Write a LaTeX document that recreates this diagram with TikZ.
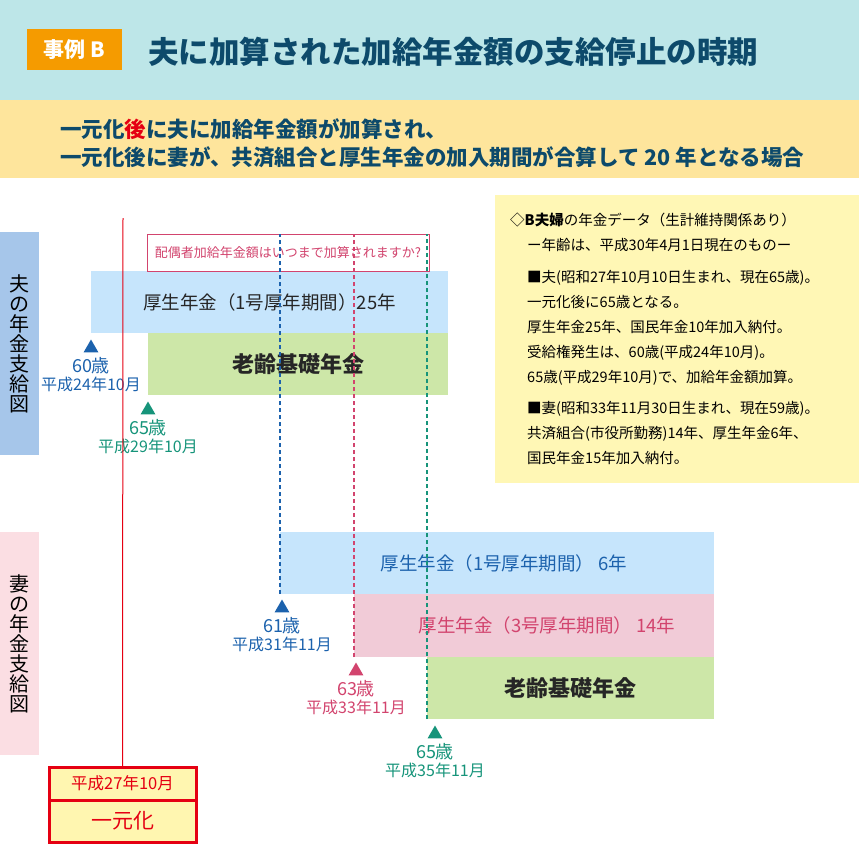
\documentclass[tikz,border=0pt]{standalone}
\usepackage{fontspec}
\setmainfont{Noto Sans CJK JP}
\usetikzlibrary{shapes,positioning}

\definecolor{bandcyan}{HTML}{BDE6E8}
\definecolor{bandyellow}{HTML}{FEE59C}
\definecolor{caseorange}{HTML}{F59B00}
\definecolor{titleblue}{HTML}{0D4A6B}
\definecolor{husbandside}{HTML}{A6C6EA}
\definecolor{wifeside}{HTML}{FBDEE3}
\definecolor{barblue}{HTML}{C6E5FC}
\definecolor{bargreen}{HTML}{CDE7A8}
\definecolor{barpink}{HTML}{F1CBD7}
\definecolor{tblue}{HTML}{1C62AD}
\definecolor{tpink}{HTML}{D2446E}
\definecolor{tgreen}{HTML}{16947A}
\definecolor{ichired}{HTML}{E50012}
\definecolor{boxyellow}{HTML}{FFF6B0}
\definecolor{infoyellow}{HTML}{FFF7B5}
\definecolor{darktext}{HTML}{262626}

\begin{document}
\begin{tikzpicture}[x=1pt,y=-1pt,
    sidebox/.style={anchor=north west,minimum width=39,minimum height=223,inner sep=0,align=center,font=\fontsize{20}{20}\selectfont},
    bar/.style={anchor=north west,inner sep=0,outer sep=0},
    tri/.style={regular polygon,regular polygon sides=3,inner sep=0,minimum size=17},
    age/.style={inner sep=0,font=\fontsize{18}{18}\selectfont},
    date/.style={inner sep=0,font=\fontsize{16}{16}\selectfont},
    dashline/.style={line width=1.2,dash pattern=on 4pt off 3pt},
    redbox/.style={draw=ichired,line width=3,fill=boxyellow,minimum width=147,inner sep=0,outer sep=0,text=ichired}]
    \useasboundingbox (0,0) rectangle (859,843);
    % heading bands
    \fill[bandcyan] (0,0) rectangle (859,100);
    \fill[bandyellow] (0,100) rectangle (859,178);
    \node[fill=caseorange,text=white,font=\fontsize{21}{21}\selectfont\bfseries,minimum width=95,minimum height=41,inner sep=0] (case) at (74.5,49.5) {事例 B};
    \node[anchor=west,inner sep=0,text=titleblue,font=\fontsize{30.5}{30.5}\selectfont\bfseries] (title) at (148,52) {夫に加算された加給年金額の支給停止の時期};
    \node[anchor=west,inner sep=0,text=titleblue,font=\fontsize{21.5}{21.5}\selectfont\bfseries] (lead1) at (60,129) {一元化\textcolor{ichired}{後}に夫に加給年金額が加算され、};
    \node[anchor=west,inner sep=0,text=titleblue,font=\fontsize{21.5}{21.5}\selectfont\bfseries] (lead2) at (60,157) {一元化後に妻が、共済組合と厚生年金の加入期間が合算して 20 年となる場合};

    % side labels
    \node[sidebox,fill=husbandside] (hside) at (0,232) {夫\\の\\年\\金\\支\\給\\図};
    \node[sidebox,fill=wifeside] (wside) at (0,532) {妻\\の\\年\\金\\支\\給\\図};

    % husband
    \node[bar,fill=barblue,minimum width=357,minimum height=62,text=darktext,font=\fontsize{18.5}{18.5}\selectfont] (hkousei) at (91,271) {厚生年金（1号厚年期間）25年};
    \node[bar,fill=bargreen,minimum width=300,minimum height=62,text=darktext,font=\fontsize{22}{22}\selectfont\bfseries] (hkiso) at (148,333) {老齢基礎年金};
    \node[draw=tpink,fill=white,line width=1,minimum width=282,minimum height=37,inner sep=0,text=tpink,font=\fontsize{13}{13}\selectfont] (ask) at (288,252.5) {配偶者加給年金額はいつまで加算されますか?};

    % wife
    \node[bar,fill=barblue,minimum width=434,minimum height=62,text=tblue,font=\fontsize{18.5}{18.5}\selectfont] (w1) at (280,532) {\hspace*{14pt}厚生年金（1号厚年期間） 6年};
    \node[bar,fill=barpink,minimum width=360,minimum height=63,text=tpink,font=\fontsize{18.5}{18.5}\selectfont] (w3) at (354,594) {\hspace*{26pt}厚生年金（3号厚年期間） 14年};
    \node[bar,fill=bargreen,minimum width=287,minimum height=62,text=darktext,font=\fontsize{22}{22}\selectfont\bfseries] (wkiso) at (427,657) {老齢基礎年金};

    % stop lines
    \draw[dashline,tblue] (w1.south west) -- (w1.south west |- ask.north);
    \draw[dashline,tpink] (w3.south west) -- (w3.south west |- ask.north);
    \draw[dashline,tgreen] (wkiso.south west) -- (wkiso.south west |- ask.north);

    % ages
    \node[tri,fill=tblue] (t60) at (91,348) {};
    \node[age,text=tblue,below=5pt of t60] (a60) {60歳};
    \node[date,text=tblue,below=2pt of a60] (d60) {平成24年10月};
    \node[tri,fill=tgreen] (t65h) at (148,410) {};
    \node[age,text=tgreen,below=5pt of t65h] (a65h) {65歳};
    \node[date,text=tgreen,below=2pt of a65h] (d65h) {平成29年10月};
    \node[tri,fill=tblue] (t61) at (282,608) {};
    \node[age,text=tblue,below=5pt of t61] (a61) {61歳};
    \node[date,text=tblue,below=2pt of a61] (d61) {平成31年11月};
    \node[tri,fill=tpink] (t63) at (356,671) {};
    \node[age,text=tpink,below=5pt of t63] (a63) {63歳};
    \node[date,text=tpink,below=2pt of a63] (d63) {平成33年11月};
    \node[tri,fill=tgreen] (t65w) at (435,734) {};
    \node[age,text=tgreen,below=5pt of t65w] (a65w) {65歳};
    \node[date,text=tgreen,below=2pt of a65w] (d65w) {平成35年11月};

    % unification
    \node[redbox,minimum height=33,font=\fontsize{16.5}{16.5}\selectfont] (ichidate) at (122.5,783.5) {平成27年10月};
    \node[redbox,minimum height=42,font=\fontsize{21}{21}\selectfont,below=0pt of ichidate] (ichigen) {一元化};
    \coordinate (ichitop) at (123,218);
    \draw[ichired,line width=1] (ichitop) -- (ichidate.north);

    % data box
    \node[bar,fill=infoyellow,minimum width=364,minimum height=288] (info) at (495,195) {};
    \node[anchor=north west,align=left,inner sep=0,font=\fontsize{14.5}{25}\selectfont] (infotext) at (510,213) {◇\textbf{B夫婦}の年金データ（生計維持関係あり）\\
      \hspace*{17pt}ー年齢は、平成30年4月1日現在のものー\\[7pt]
      \hspace*{17pt}■夫(昭和27年10月10日生まれ、現在65歳)。\\
      \hspace*{17pt}一元化後に65歳となる。\\
      \hspace*{17pt}厚生年金25年、国民年金10年加入納付。\\
      \hspace*{17pt}受給権発生は、60歳(平成24年10月)。\\
      \hspace*{17pt}65歳(平成29年10月)で、加給年金額加算。\\[6pt]
      \hspace*{17pt}■妻(昭和33年11月30日生まれ、現在59歳)。\\
      \hspace*{17pt}共済組合(市役所勤務)14年、厚生年金6年、\\
      \hspace*{17pt}国民年金15年加入納付。};
\end{tikzpicture}
\end{document}
